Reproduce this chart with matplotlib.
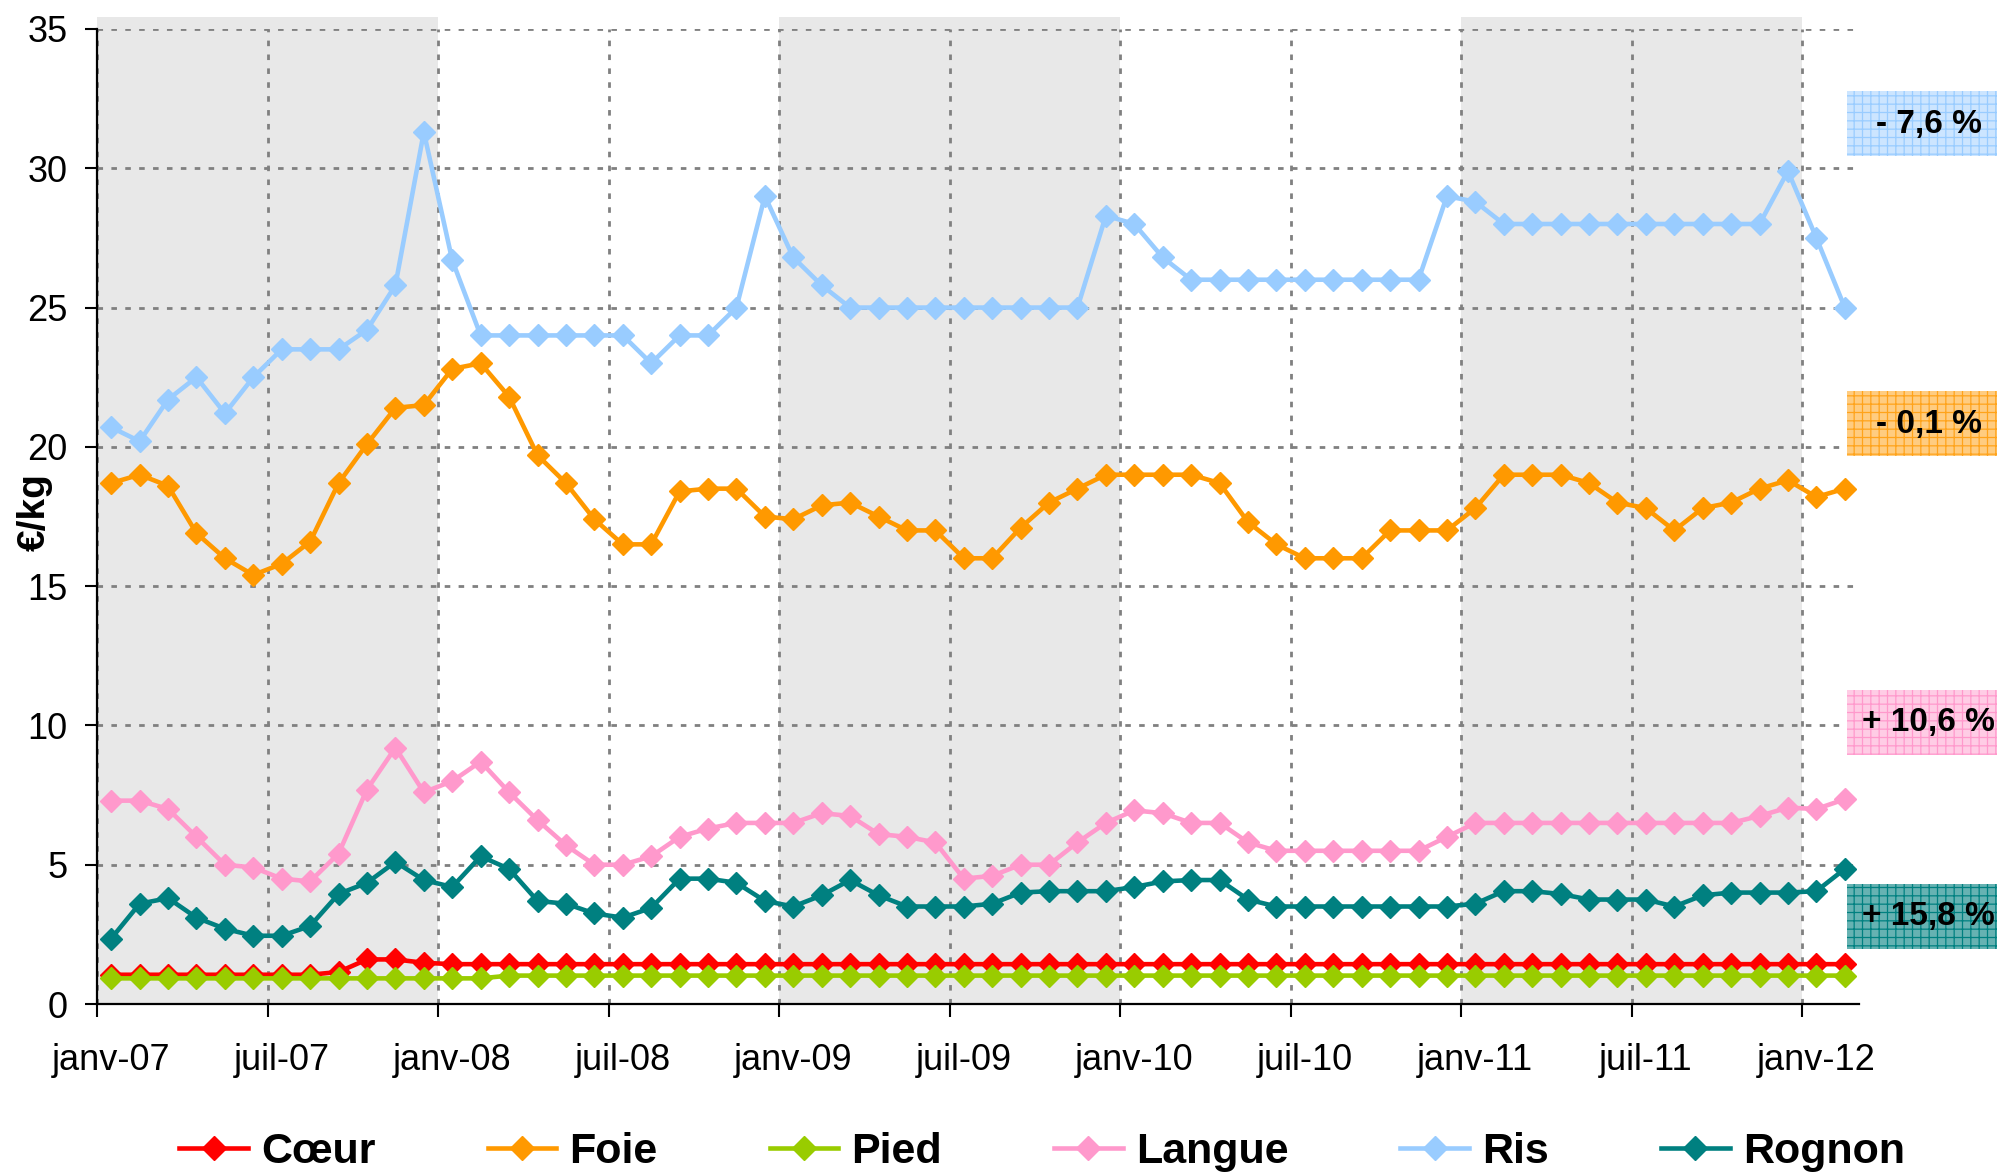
import numpy as np
import matplotlib
matplotlib.use("Agg")
import matplotlib.pyplot as plt
from matplotlib.patches import Rectangle

plt.rcParams['font.family'] = ['Liberation Sans', 'DejaVu Sans']
plt.rcParams['hatch.linewidth'] = 0.9

# prix mensuels, janv-07 -> fevr-12 (euro/kg)
coeur = [1.05] * 8 + [1.15, 1.6, 1.6, 1.48] + [1.43] * 50
foie = [18.7, 19.0, 18.6, 16.9, 16.0, 15.4, 15.8, 16.6, 18.7, 20.1,
        21.4, 21.5, 22.8, 23.0, 21.8, 19.7, 18.7, 17.4, 16.5, 16.5,
        18.4, 18.5, 18.5, 17.5, 17.4, 17.9, 18.0, 17.5, 17.0, 17.0,
        16.0, 16.0, 17.1, 18.0, 18.5, 19.0, 19.0, 19.0, 19.0, 18.7,
        17.3, 16.5, 16.0, 16.0, 16.0, 17.0, 17.0, 17.0, 17.8, 19.0,
        19.0, 19.0, 18.7, 18.0, 17.8, 17.0, 17.8, 18.0, 18.5, 18.8,
        18.2, 18.5]
pied = [0.92] * 14 + [1.02] * 48
langue = [7.3, 7.3, 7.0, 6.0, 5.0, 4.9, 4.5, 4.4, 5.4, 7.7,
          9.2, 7.6, 8.0, 8.7, 7.6, 6.6, 5.7, 5.0, 5.0, 5.3,
          6.0, 6.3, 6.5, 6.5, 6.5, 6.85, 6.75, 6.1, 6.0, 5.8,
          4.5, 4.6, 5.0, 5.0, 5.8, 6.5, 6.95, 6.85, 6.5, 6.5,
          5.8, 5.5, 5.5, 5.5, 5.5, 5.5, 5.5, 6.0, 6.5, 6.5,
          6.5, 6.5, 6.5, 6.5, 6.5, 6.5, 6.5, 6.5, 6.75, 7.05,
          7.0, 7.35]
ris = [20.7, 20.2, 21.7, 22.5, 21.2, 22.5, 23.5, 23.5, 23.5, 24.2,
       25.8, 31.3, 26.7, 24.0, 24.0, 24.0, 24.0, 24.0, 24.0, 23.0,
       24.0, 24.0, 25.0, 29.0, 26.8, 25.8, 25.0, 25.0, 25.0, 25.0,
       25.0, 25.0, 25.0, 25.0, 25.0, 28.3, 28.0, 26.8, 26.0, 26.0,
       26.0, 26.0, 26.0, 26.0, 26.0, 26.0, 26.0, 29.0, 28.8, 28.0,
       28.0, 28.0, 28.0, 28.0, 28.0, 28.0, 28.0, 28.0, 28.0, 29.9,
       27.5, 25.0]
rognon = [2.35, 3.6, 3.8, 3.1, 2.7, 2.45, 2.45, 2.8, 3.95, 4.35,
          5.1, 4.45, 4.2, 5.3, 4.85, 3.7, 3.6, 3.25, 3.1, 3.45,
          4.5, 4.5, 4.35, 3.7, 3.5, 3.9, 4.45, 3.9, 3.5, 3.5,
          3.5, 3.6, 4.0, 4.05, 4.05, 4.05, 4.2, 4.4, 4.45, 4.45,
          3.75, 3.5, 3.5, 3.5, 3.5, 3.5, 3.5, 3.5, 3.6, 4.05,
          4.05, 3.95, 3.75, 3.75, 3.75, 3.5, 3.9, 4.0, 4.0, 4.0,
          4.05, 4.85]

noms = ["Cœur", "Foie", "Pied", "Langue", "Ris", "Rognon"]
series = [coeur, foie, pied, langue, ris, rognon]
couleurs = ["#FF0000", "#FF9900", "#99CC00", "#FF99CC", "#99CCFF", "#008080"]

tick_labels = ["janv-07", "juil-07", "janv-08", "juil-08", "janv-09", "juil-09",
               "janv-10", "juil-10", "janv-11", "juil-11", "janv-12"]
annees_grisees = [2007, 2009, 2011]

# evolution annoncee a droite
evol_txt = ["- 7,6 %", "- 0,1 %", "+ 10,6 %", "+ 15,8 %"]
evol_fond = ["#CCE5FF", "#FFCC80", "#FFCCE5", "#66B2B2"]
evol_trame = ["#99CCFF", "#FFA31A", "#FF99CC", "#008080"]

W, H = 1997, 1174
fig = plt.figure(figsize=(W / 100, H / 100), dpi=100)
ax = fig.add_axes([97 / W, 1 - 1004 / H, (1859 - 97) / W, (1004 - 29) / H])

x = np.arange(len(ris)) + 0.5

for a in annees_grisees:
    d = (a - 2007) * 12
    ax.axvspan(d, d + 12, ymin=0, ymax=1.012, color="#E8E8E8", lw=0,
               zorder=0, clip_on=False)

for nom, s, c in zip(noms, series, couleurs):
    ax.plot(x, s, color=c, lw=3.3, marker="D", ms=11, mec=c, mfc=c,
            label=nom, zorder=3)

ax.set_xlim(0, len(ris))
ax.set_ylim(0, 35)
ax.set_yticks(np.arange(0, 36, 5))

major = np.arange(0, 61, 6)
ax.set_xticks(major)
ax.set_xticklabels([])
ax.set_xticks(major + 0.5, minor=True)
ax.set_xticklabels(tick_labels, minor=True)
ax.tick_params(axis="x", which="minor", length=0, pad=28, labelsize=26)
ax.tick_params(axis="x", which="major", length=9, width=1.5, direction="out")
ax.tick_params(axis="y", length=9, width=1.5, direction="out", pad=12, labelsize=26)

ax.grid(True, which="major", color="#808080", lw=2, ls=(0, (2, 3)))
ax.set_axisbelow(True)
for sp in ["top", "right"]:
    ax.spines[sp].set_visible(False)
for sp in ["left", "bottom"]:
    ax.spines[sp].set_linewidth(1.6)

ax.set_ylabel("€/kg", fontsize=28, fontweight="bold")
ax.yaxis.set_label_coords(-0.025, 0.505)

box_y = [91, 391, 690, 884]
for txt, f, t, y0 in zip(evol_txt, evol_fond, evol_trame, box_y):
    r = Rectangle((1847 / W, 1 - (y0 + 65) / H), 160 / W, 65 / H,
                  transform=fig.transFigure, facecolor=f, edgecolor=t,
                  lw=0, hatch="++", zorder=1)
    fig.patches.append(r)
    tx = 1876 if txt.startswith("-") else 1862
    fig.text(tx / W, 1 - (y0 + 33) / H, txt, fontsize=24, fontweight="bold",
             va="center", ha="left")

leg = fig.legend(loc="center", bbox_to_anchor=(1042 / W, 1 - 1152 / H), ncol=6,
                 frameon=False, prop={"size": 31, "weight": "bold"},
                 handlelength=1.6, handletextpad=0.3, columnspacing=2.6,
                 borderpad=0, markerscale=1.1)

fig.savefig("out.png", dpi=100)
